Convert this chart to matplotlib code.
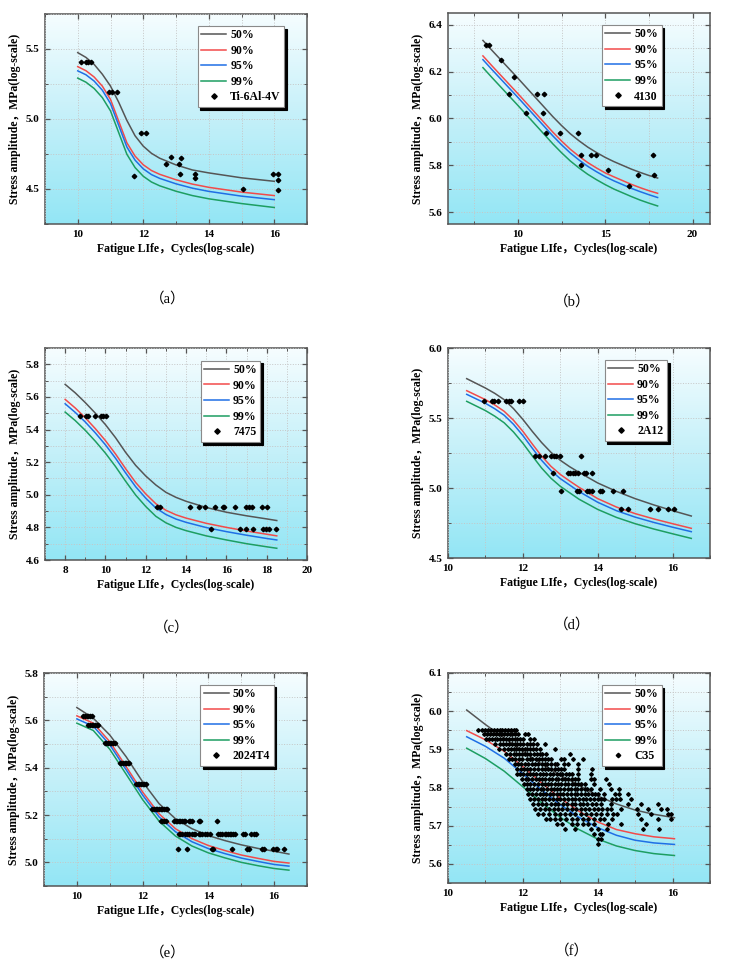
import numpy as np
import matplotlib
matplotlib.use('Agg')
import matplotlib.pyplot as plt
from matplotlib.colors import LinearSegmentedColormap
from matplotlib.ticker import MultipleLocator, FormatStrFormatter

plt.rcParams['font.family'] = ['Liberation Serif', 'Noto Sans CJK SC']
plt.rcParams['font.weight'] = 'bold'

LEVELS = ['50%', '90%', '95%', '99%']
COLORS = ['#555555', '#f24a4a', '#1f6fe5', '#1d9e62']

# ---- (a) Ti-6Al-4V
a_x = [10, 10.25, 10.5, 10.75, 11, 11.25, 11.5, 11.75, 12, 12.25, 12.5, 13, 13.5, 14, 15, 16]
a_50 = [5.474, 5.44, 5.39, 5.32, 5.235, 5.12, 4.99, 4.88, 4.806, 4.755, 4.72, 4.672, 4.636,
        4.615, 4.58, 4.555]
a_90 = [5.374, 5.345, 5.30, 5.235, 5.14, 4.985, 4.83, 4.735, 4.673, 4.632, 4.605, 4.566, 4.535,
        4.512, 4.478, 4.453]
a_95 = [5.344, 5.316, 5.271, 5.206, 5.11, 4.955, 4.80, 4.706, 4.644, 4.603, 4.576, 4.537, 4.506,
        4.483, 4.449, 4.424]
a_99 = [5.292, 5.263, 5.218, 5.153, 5.058, 4.903, 4.748, 4.653, 4.591, 4.55, 4.523, 4.484, 4.453,
        4.43, 4.396, 4.368]
a_px = [10.1, 10.25, 10.32, 10.4, 10.95, 11.05, 11.2, 11.92, 12.07, 11.72, 12.7, 13.09,
        12.84, 13.15, 13.11, 13.57, 13.57, 15.05, 15.95, 16.12, 16.12, 16.12]
a_py = [5.41, 5.41, 5.41, 5.41, 5.19, 5.19, 5.19, 4.90, 4.90, 4.595, 4.68, 4.68,
        4.73, 4.72, 4.61, 4.61, 4.575, 4.50, 4.61, 4.61, 4.565, 4.49]

# ---- (b) 4130
b_x = [8, 8.5, 9, 9.5, 10, 10.5, 11, 11.5, 12, 12.5, 13, 13.5, 14, 14.5, 15, 15.5, 16, 16.5,
       17, 17.5, 18]
b_50 = [6.333, 6.292, 6.252, 6.212, 6.172, 6.131, 6.09, 6.049, 6.008, 5.97, 5.935, 5.905,
        5.878, 5.855, 5.834, 5.816, 5.80, 5.784, 5.77, 5.757, 5.746]
b_90 = [6.267, 6.226, 6.186, 6.146, 6.106, 6.065, 6.024, 5.983, 5.942, 5.904, 5.869, 5.839,
        5.812, 5.789, 5.768, 5.751, 5.735, 5.719, 5.705, 5.692, 5.681]
b_95 = [6.251, 6.21, 6.17, 6.13, 6.09, 6.049, 6.008, 5.967, 5.926, 5.888, 5.853, 5.823,
        5.796, 5.773, 5.752, 5.734, 5.718, 5.702, 5.688, 5.675, 5.663]
b_99 = [6.217, 6.176, 6.136, 6.096, 6.056, 6.015, 5.974, 5.933, 5.892, 5.854, 5.819, 5.789,
        5.762, 5.739, 5.718, 5.699, 5.683, 5.667, 5.652, 5.639, 5.627]
b_px = [8.18, 8.37, 9.05, 9.79, 9.49, 10.49, 11.1, 11.5, 11.46, 11.61, 12.41, 13.45,
        13.64, 13.6, 14.2, 14.48, 15.14, 16.34, 16.9, 17.74, 17.8]
b_py = [6.314, 6.314, 6.249, 6.179, 6.106, 6.024, 6.106, 6.106, 6.024, 5.937, 5.937, 5.937,
        5.843, 5.80, 5.843, 5.843, 5.779, 5.714, 5.759, 5.843, 5.759]

# ---- (c) 7475
c_x = [8, 8.5, 9, 9.5, 10, 10.5, 11, 11.5, 12, 12.5, 13, 13.5, 14, 15, 16, 17, 18, 18.5]
c_50 = [5.677, 5.625, 5.565, 5.50, 5.43, 5.35, 5.26, 5.18, 5.115, 5.06, 5.015, 4.984, 4.96,
        4.922, 4.893, 4.871, 4.852, 4.842]
c_90 = [5.585, 5.532, 5.472, 5.405, 5.332, 5.25, 5.16, 5.075, 5.005, 4.945, 4.905, 4.877,
        4.857, 4.825, 4.80, 4.778, 4.758, 4.748]
c_95 = [5.558, 5.505, 5.446, 5.379, 5.306, 5.224, 5.134, 5.049, 4.979, 4.919, 4.879, 4.851,
        4.831, 4.799, 4.774, 4.752, 4.732, 4.723]
c_99 = [5.507, 5.455, 5.395, 5.328, 5.255, 5.173, 5.083, 4.998, 4.928, 4.868, 4.828, 4.80,
        4.78, 4.748, 4.723, 4.70, 4.681, 4.672]
c_rows = [
    (5.486, [8.75, 9.05, 9.15, 9.5, 9.8, 9.9, 10.05]),
    (4.924, [12.58, 12.7, 14.18, 14.66, 14.92, 15.45, 15.81, 15.87, 16.41, 16.98, 17.11,
             17.29, 17.77, 18.02]),
    (4.791, [15.25, 16.67, 16.97, 17.31, 17.82, 17.97, 18.1, 18.48]),
]

# ---- (d) 2A12
d_x = [10.5, 11, 11.25, 11.5, 11.75, 12, 12.25, 12.5, 12.75, 13, 13.25, 13.5, 14, 14.5, 15,
       15.5, 16, 16.5]
d_50 = [5.781, 5.714, 5.676, 5.631, 5.567, 5.49, 5.405, 5.325, 5.255, 5.198, 5.152, 5.112,
        5.036, 4.976, 4.924, 4.879, 4.838, 4.80]
d_90 = [5.695, 5.631, 5.593, 5.548, 5.484, 5.405, 5.315, 5.228, 5.155, 5.097, 5.05, 5.005,
        4.924, 4.864, 4.817, 4.779, 4.745, 4.712]
d_95 = [5.669, 5.605, 5.566, 5.52, 5.455, 5.375, 5.285, 5.198, 5.125, 5.067, 5.021, 4.975,
        4.898, 4.838, 4.792, 4.754, 4.72, 4.688]
d_99 = [5.619, 5.553, 5.513, 5.466, 5.40, 5.32, 5.23, 5.143, 5.07, 5.012, 4.966, 4.92,
        4.847, 4.79, 4.745, 4.707, 4.673, 4.64]
d_rows = [
    (5.624, [10.95, 11.17, 11.24, 11.33, 11.56, 11.62, 11.69, 11.91, 12.0]),
    (5.229, [12.33, 12.42, 12.6, 12.76, 12.83, 12.89, 12.98, 13.56]),
    (5.11, [12.8, 13.2, 13.26, 13.33, 13.38, 13.47, 13.64, 13.7, 13.85]),
    (4.976, [13.02, 13.44, 13.51, 13.71, 13.78, 13.84, 14.06, 14.12, 14.4, 14.68]),
    (4.85, [14.62, 14.8, 15.4, 15.6, 15.87, 16.03]),
]

# ---- (e) 2024T4
e_x = [10, 10.5, 11, 11.5, 12, 12.5, 13, 13.5, 14, 14.5, 15, 15.5, 16, 16.45]
e_50 = [5.654, 5.609, 5.538, 5.446, 5.34, 5.248, 5.184, 5.142, 5.113, 5.092, 5.074, 5.059, 5.047, 5.035]
e_90 = [5.619, 5.588, 5.51, 5.404, 5.297, 5.205, 5.142, 5.10, 5.071, 5.05, 5.031, 5.017, 5.004, 4.997]
e_95 = [5.606, 5.575, 5.497, 5.391, 5.284, 5.192, 5.129, 5.087, 5.058, 5.037, 5.018, 5.004, 4.991, 4.984]
e_99 = [5.588, 5.557, 5.478, 5.372, 5.265, 5.174, 5.111, 5.069, 5.04, 5.019, 5.0, 4.986, 4.974, 4.967]
e_rows = [
    (5.617, [10.2, 10.25, 10.3, 10.35, 10.4, 10.45]),
    (5.58, [10.35, 10.4, 10.45, 10.5, 10.55, 10.6, 10.65]),
    (5.503, [10.85, 10.9, 10.95, 11.0, 11.05, 11.1, 11.15]),
    (5.42, [11.3, 11.35, 11.4, 11.45, 11.5, 11.55, 11.6]),
    (5.329, [11.8, 11.85, 11.9, 11.95, 12.0, 12.05, 12.1]),
    (5.224, [12.3, 12.35, 12.4, 12.45, 12.5, 12.55, 12.6, 12.65, 12.7, 12.75]),
    (5.176, [12.55, 12.6, 12.65, 12.7, 12.95, 13.0, 13.05, 13.1, 13.15, 13.2, 13.25, 13.3,
             13.4, 13.45, 13.5, 13.7, 13.75, 14.27]),
    (5.119, [13.1, 13.15, 13.2, 13.3, 13.35, 13.4, 13.5, 13.55, 13.6, 13.7, 13.75, 13.8, 13.9,
             13.95, 14.05, 14.3, 14.35, 14.4, 14.5, 14.55, 14.6, 14.65, 14.7, 14.75, 14.8,
             15.05, 15.1, 15.3, 15.4, 15.45]),
    (5.055, [13.09, 13.35, 14.12, 14.15, 14.72, 15.18, 15.25, 15.62, 15.7, 15.98, 16.05,
             16.1, 16.3]),
]

# ---- (f) C35
f_x = [10.5, 11, 11.5, 12, 12.5, 13, 13.5, 14, 14.5, 15, 15.5, 16.05]
f_50 = [6.003, 5.965, 5.93, 5.895, 5.862, 5.832, 5.806, 5.778, 5.757, 5.741, 5.73, 5.721]
f_90 = [5.949, 5.925, 5.895, 5.855, 5.812, 5.772, 5.738, 5.71, 5.69, 5.679, 5.671, 5.666]
f_95 = [5.933, 5.908, 5.877, 5.836, 5.794, 5.755, 5.722, 5.695, 5.675, 5.662, 5.655, 5.651]
f_99 = [5.903, 5.876, 5.843, 5.802, 5.76, 5.722, 5.69, 5.665, 5.647, 5.635, 5.627, 5.622]
f_rows = [
    (5.952, [10.8, 10.9, 11.0, 11.08, 11.15, 11.22, 11.3, 11.38, 11.45, 11.52, 11.6, 11.68,
             11.75, 11.82]),
    (5.939, [10.95, 11.05, 11.12, 11.2, 11.28, 11.35, 11.42, 11.5, 11.58, 11.65, 11.72, 11.8,
             11.87, 12.05, 12.13]),
    (5.926, [11.02, 11.1, 11.18, 11.25, 11.32, 11.4, 11.48, 11.55, 11.62, 11.7, 11.78, 11.85,
             11.92, 12.0, 12.18, 12.3]),
    (5.913, [11.25, 11.4, 11.48, 11.55, 11.62, 11.7, 11.78, 11.85, 11.92, 12.0, 12.12, 12.2,
             12.28, 12.38, 12.6]),
    (5.90, [11.35, 11.5, 11.6, 11.68, 11.75, 11.82, 11.9, 11.98, 12.05, 12.12, 12.2, 12.28,
            12.35, 12.45, 12.85]),
    (5.887, [11.55, 11.65, 11.75, 11.82, 11.9, 11.98, 12.05, 12.12, 12.2, 12.3, 12.38, 12.45,
             12.52, 12.62, 13.25]),
    (5.874, [11.62, 11.72, 11.8, 11.9, 11.98, 12.1, 12.18, 12.25, 12.35, 12.42, 12.5, 12.6,
             12.68, 12.75, 13.02, 13.1, 13.35, 13.6]),
    (5.861, [11.8, 11.88, 11.95, 12.05, 12.15, 12.25, 12.32, 12.4, 12.5, 12.58, 12.65, 12.75,
             12.85, 12.92, 13.1, 13.2, 13.48]),
    (5.848, [11.85, 11.95, 12.02, 12.12, 12.2, 12.3, 12.4, 12.5, 12.58, 12.68, 12.75, 12.85,
             12.95, 13.02, 13.1, 13.48, 13.85]),
    (5.835, [11.85, 11.92, 12.0, 12.1, 12.18, 12.28, 12.35, 12.45, 12.55, 12.62, 12.72, 12.8,
             12.9, 12.98, 13.05, 13.15, 13.22, 13.3, 13.48, 13.82]),
    (5.822, [11.98, 12.08, 12.15, 12.25, 12.35, 12.42, 12.52, 12.6, 12.7, 12.78, 12.88, 12.95,
             13.05, 13.12, 13.2, 13.3, 13.38, 13.47, 13.82, 13.9, 14.22]),
    (5.809, [12.02, 12.12, 12.2, 12.3, 12.4, 12.5, 12.58, 12.68, 12.75, 12.85, 12.95, 13.02,
             13.12, 13.2, 13.3, 13.38, 13.48, 13.55, 13.65, 13.9, 14.3]),
    (5.796, [12.1, 12.2, 12.28, 12.38, 12.48, 12.55, 12.65, 12.75, 12.82, 12.92, 13.0, 13.1,
             13.2, 13.28, 13.38, 13.45, 13.55, 13.65, 13.72, 13.82, 14.05, 14.35, 14.58]),
    (5.783, [12.15, 12.25, 12.35, 12.45, 12.55, 12.62, 12.72, 12.8, 12.9, 13.0, 13.08, 13.18,
             13.28, 13.38, 13.45, 13.55, 13.65, 13.75, 13.85, 13.92, 14.0, 14.18, 14.45,
             14.58, 14.8]),
    (5.77, [12.2, 12.3, 12.4, 12.5, 12.6, 12.7, 12.8, 12.9, 13.0, 13.1, 13.2, 13.3, 13.4,
            13.5, 13.6, 13.7, 13.8, 13.9, 14.0, 14.1, 14.18, 14.38, 14.48, 14.6, 14.9]),
    (5.757, [12.28, 12.4, 12.52, 12.62, 12.75, 12.85, 12.95, 13.08, 13.18, 13.3, 13.4, 13.52,
             13.62, 13.72, 13.85, 13.95, 14.08, 14.35, 14.8, 15.15, 15.6]),
    (5.743, [12.32, 12.45, 12.58, 12.7, 12.82, 12.95, 13.05, 13.18, 13.3, 13.42, 13.55, 13.65,
             13.78, 13.9, 14.0, 14.12, 14.25, 14.35, 14.62, 15.05, 15.35, 15.7, 15.85]),
    (5.73, [12.4, 12.55, 12.7, 12.85, 13.0, 13.12, 13.25, 13.4, 13.55, 13.68, 13.82, 13.95,
            14.1, 14.25, 14.4, 14.52, 15.08, 15.42, 15.88, 15.95]),
    (5.717, [12.62, 12.72, 12.85, 13.0, 13.15, 13.3, 13.45, 13.6, 13.75, 13.9, 14.05, 14.18,
             14.38, 15.15, 15.6, 15.95]),
    (5.704, [12.9, 13.05, 13.3, 13.45, 13.6, 13.75, 13.9, 14.28, 14.62, 15.3]),
    (5.691, [13.12, 13.38, 13.82, 14.0, 14.25, 15.2, 15.65]),
    (5.678, [13.9, 14.05, 14.12]),
    (5.665, [14.0, 14.1]),
    (5.652, [14.0]),
]


def rows_to_xy(rows):
    xs, ys = [], []
    for y, xr in rows:
        xs.extend(xr)
        ys.extend([y] * len(xr))
    return xs, ys


bg = LinearSegmentedColormap.from_list('bg', ['#93e6f5', '#c4f0f9', '#f6fdff'])

W, H = 731, 963
fig = plt.figure(figsize=(W / 100, H / 100), dpi=100)


def px_axes(l, r, t, b):
    return fig.add_axes([l / W, 1 - b / H, (r - l) / W, (b - t) / H])


def draw_panel(ax, x, curves, px, py, name, xlim, ylim, xmaj, xmin, ymaj, ymin, anchor, ms=2.3):
    grad = np.linspace(0, 1, 256).reshape(-1, 1)
    ax.imshow(grad, cmap=bg, origin='lower', aspect='auto',
              extent=(xlim[0], xlim[1], ylim[0], ylim[1]), zorder=0)
    for lab, col, yv in zip(LEVELS, COLORS, curves):
        ax.plot(x, yv, color=col, lw=1.1, label=lab, zorder=3)
    ax.plot(px, py, ls='none', marker='D', ms=ms, color='black', label=name, zorder=4)
    ax.set_xlim(*xlim)
    ax.set_ylim(*ylim)
    ax.xaxis.set_major_locator(MultipleLocator(xmaj))
    ax.xaxis.set_minor_locator(MultipleLocator(xmin))
    ax.yaxis.set_major_locator(MultipleLocator(ymaj))
    ax.yaxis.set_minor_locator(MultipleLocator(ymin))
    ax.yaxis.set_major_formatter(FormatStrFormatter('%.1f'))
    ax.grid(which='both', ls=':', color='#c6c6c6', lw=0.7, zorder=1)
    ax.set_axisbelow(False)
    ax.tick_params(which='both', direction='in', top=True, right=True, labelsize=8,
                   color='#555555', pad=4)
    ax.tick_params(which='major', length=3.5, width=0.9)
    ax.tick_params(which='minor', length=2, width=0.7)
    for s in ax.spines.values():
        s.set_color('#555555')
        s.set_linewidth(1.1)
    ax.set_xlabel('Fatigue LIfe，Cycles(log-scale)', fontsize=8.5, fontweight='bold', labelpad=3)
    ax.set_ylabel('Stress amplitude，MPa(log-scale)', fontsize=8.5, fontweight='bold', labelpad=3)
    leg = ax.legend(loc='upper right', bbox_to_anchor=anchor, fontsize=8.5, fancybox=False,
                    framealpha=1, edgecolor='#8a8a8a', handlelength=2.1, labelspacing=0.3,
                    borderpad=0.3, handletextpad=0.35, borderaxespad=0, markerscale=1.2,
                    shadow={'color': 'black', 'alpha': 1})
    leg.get_frame().set_linewidth(0.8)
    leg.set_zorder(6)


ax_a = px_axes(45, 307, 14, 224)
draw_panel(ax_a, a_x, [a_50, a_90, a_95, a_99], a_px, a_py, 'Ti-6Al-4V',
           (9, 17), (4.25, 5.75), 2, 1, 0.5, 0.25, (0.913, 0.944))

ax_b = px_axes(448, 710, 13, 224)
draw_panel(ax_b, b_x, [b_50, b_90, b_95, b_99], b_px, b_py, '4130',
           (6, 21), (5.55, 6.45), 5, 2.5, 0.2, 0.1, (0.815, 0.944))

cx, cy = rows_to_xy(c_rows)
ax_c = px_axes(45, 307, 348, 560)
draw_panel(ax_c, c_x, [c_50, c_90, c_95, c_99], cx, cy, '7475',
           (7, 20), (4.6, 5.9), 2, 1, 0.2, 0.1, (0.822, 0.941))

dx, dy = rows_to_xy(d_rows)
ax_d = px_axes(448, 710, 348, 558)
draw_panel(ax_d, d_x, [d_50, d_90, d_95, d_99], dx, dy, '2A12',
           (10, 17), (4.5, 6.0), 2, 1, 0.5, 0.25, (0.835, 0.944))

ex, ey = rows_to_xy(e_rows)
ax_e = px_axes(44, 307, 673, 886)
draw_panel(ax_e, e_x, [e_50, e_90, e_95, e_99], ex, ey, '2024T4',
           (9, 17), (4.9, 5.8), 2, 1, 0.2, 0.1, (0.873, 0.945))

fx, fy = rows_to_xy(f_rows)
ax_f = px_axes(448, 710, 673, 883)
draw_panel(ax_f, f_x, [f_50, f_90, f_95, f_99], fx, fy, 'C35',
           (10, 17), (5.55, 6.1), 2, 1, 0.1, 0.05, (0.815, 0.944), ms=1.9)

captions = ['（a）', '（b）', '（c）', '（d）', '（e）', '（f）']
cap_pos = [(168, 299), (572, 302), (172, 628), (572, 625), (168, 953), (572, 951)]
for cap, (cx_, cy_) in zip(captions, cap_pos):
    fig.text(cx_ / W, 1 - cy_ / H, cap, ha='center', va='center', fontsize=10.5,
             fontweight='normal', family=['Liberation Serif', 'Noto Sans CJK SC'])

fig.savefig('out.png', dpi=100)
